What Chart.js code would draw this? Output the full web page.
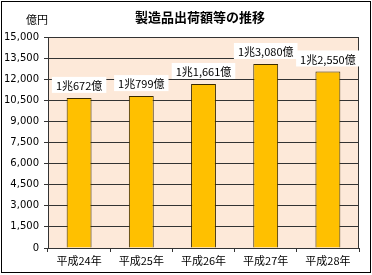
<!DOCTYPE html>
<html>
<head>
<meta charset="utf-8">
<script src="https://cdn.jsdelivr.net/npm/chart.js@4"></script>
<style>
  body { margin: 0; background: #fff; }
  #wrap { width: 372px; height: 275px; }
</style>
</head>
<body>
<div id="wrap"><canvas id="myChart" width="372" height="275"></canvas></div>
<script>
// データ
const years = ['平成24年', '平成25年', '平成26年', '平成27年', '平成28年'];
const shipments = [10672, 10799, 11661, 13080, 12550]; // 億円
const valueLabels = ['1兆672億', '1兆799億', '1兆1,661億', '1兆3,080億', '1兆2,550億'];
const titleText = '製造品出荷額等の推移';
const unitText = '億円';

const jpFont = "'Noto Sans CJK JP', 'DejaVu Sans', sans-serif";

// 背景・枠・タイトル・ラベル描画
const decorPlugin = {
  id: 'decor',
  beforeDraw(chart) {
    const { ctx, chartArea: a } = chart;
    ctx.save();
    ctx.fillStyle = '#fff';
    ctx.fillRect(0, 0, chart.width, chart.height);
    ctx.fillStyle = '#fde9d9';
    ctx.fillRect(a.left, a.top, a.right - a.left, a.bottom - a.top);
    ctx.restore();
  },
  afterDraw(chart) {
    const { ctx, chartArea: a } = chart;
    ctx.save();
    // 枠
    ctx.strokeStyle = '#000';
    ctx.lineWidth = 1;
    ctx.strokeRect(1.5, 1.5, chart.width - 3, chart.height - 4);
    ctx.strokeStyle = '#333';
    ctx.strokeRect(a.left + 0.5, a.top + 0.5, a.right - a.left - 1, a.bottom - a.top);
    // タイトル
    ctx.fillStyle = '#000';
    ctx.textAlign = 'center';
    ctx.textBaseline = 'middle';
    ctx.font = "bold 13px " + jpFont;
    ctx.fillText(titleText, 200, 17);
    ctx.font = "11px " + jpFont;
    ctx.fillText(unitText, 37, 20);
    // 値ラベル
    const meta = chart.getDatasetMeta(0);
    ctx.font = "11px " + jpFont;
    meta.data.forEach((bar, i) => {
      const txt = valueLabels[i];
      const w = ctx.measureText(txt).width + 8;
      const cy = bar.y - 13;
      ctx.fillStyle = '#fff';
      ctx.fillRect(bar.x - w / 2, cy - 8, w, 16);
      ctx.fillStyle = '#000';
      ctx.fillText(txt, bar.x, cy + 1);
    });
    ctx.restore();
  }
};

const ctx = document.getElementById('myChart').getContext('2d');
const myChart = new Chart(ctx, {
  type: 'bar',
  data: {
    labels: years,
    datasets: [{
      label: '製造品出荷額等',
      data: shipments,
      backgroundColor: '#ffc000',
      borderColor: '#3a2a00',
      borderWidth: 1,
      barPercentage: 0.4,
      categoryPercentage: 1.0
    }]
  },
  options: {
    responsive: false,
    animation: false,
    layout: { padding: { top: 37, right: 13, left: 0, bottom: 0 } },
    plugins: {
      legend: { display: false },
      tooltip: { enabled: false }
    },
    scales: {
      x: {
        afterFit(scale) { scale.height = 27; },
        grid: { drawOnChartArea: false, offset: true, tickLength: 4, color: '#333' },
        border: { color: '#333' },
        ticks: { color: '#000', font: { family: jpFont, size: 11 }, padding: 2 }
      },
      y: {
        min: 0,
        max: 15000,
        afterFit(scale) { scale.width = 48; },
        grid: { color: '#333', tickLength: 4 },
        border: { color: '#333' },
        ticks: {
          stepSize: 1500,
          color: '#000',
          font: { family: "'DejaVu Sans', sans-serif", size: 10 },
          padding: 5,
          callback: v => v.toLocaleString('en-US')
        }
      }
    }
  },
  plugins: [decorPlugin]
});
</script>
</body>
</html>
